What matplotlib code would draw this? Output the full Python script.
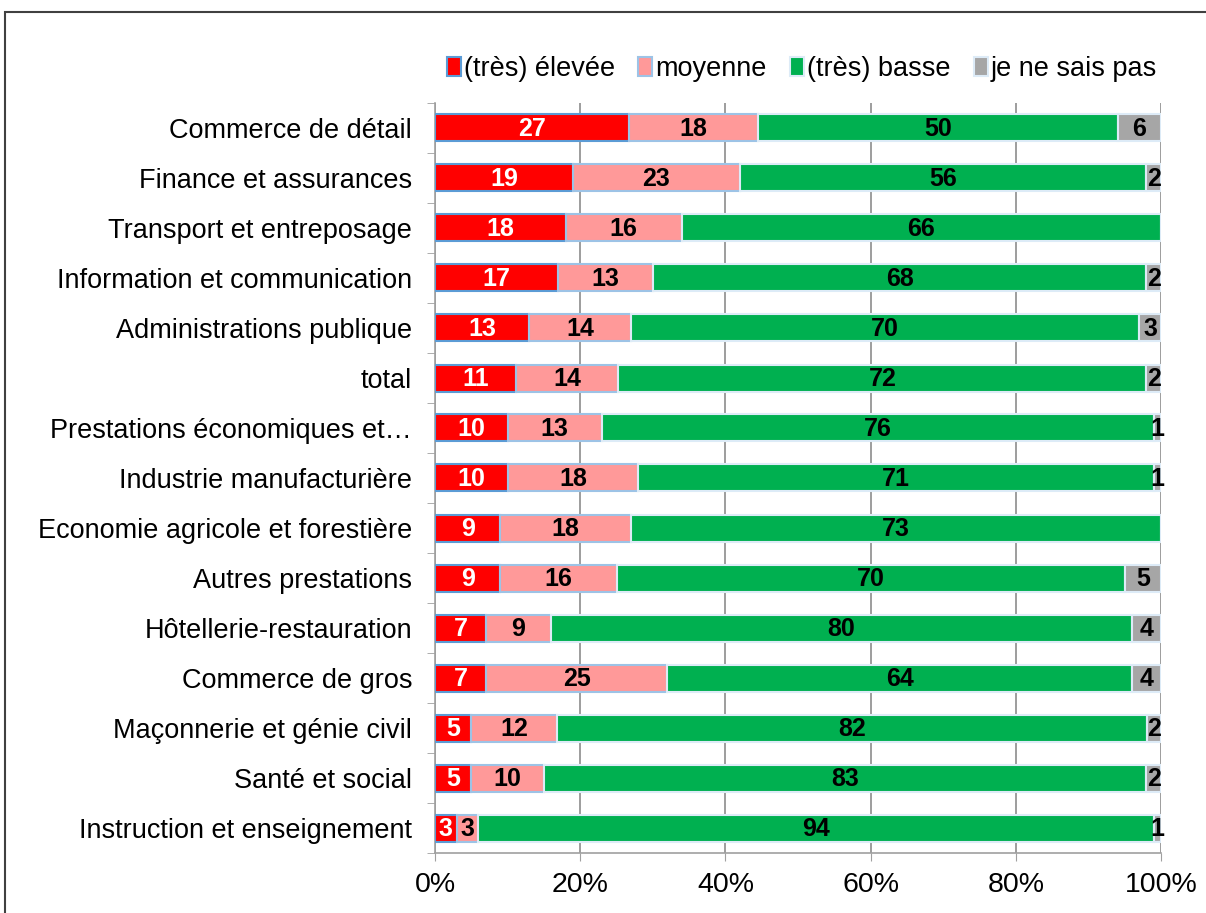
import matplotlib
matplotlib.use("Agg")
import matplotlib.pyplot as plt
from matplotlib.patches import Rectangle
import numpy as np

plt.rcParams['font.family'] = ['Liberation Sans', 'DejaVu Sans']

categories = [
    "Commerce de détail", "Finance et assurances", "Transport et entreposage",
    "Information et communication", "Administrations publique", "total",
    "Prestations économiques et…", "Industrie manufacturière",
    "Economie agricole et forestière", "Autres prestations",
    "Hôtellerie-restauration", "Commerce de gros",
    "Maçonnerie et génie civil", "Santé et social",
    "Instruction et enseignement",
]
eleve = [27, 19, 18, 17, 13, 11, 10, 10, 9, 9, 7, 7, 5, 5, 3]
moyenne = [18, 23, 16, 13, 14, 14, 13, 18, 18, 16, 9, 25, 12, 10, 3]
basse = [50, 56, 66, 68, 70, 72, 76, 71, 73, 70, 80, 64, 82, 83, 94]
nesaispas = [6, 2, 0, 2, 3, 2, 1, 1, 0, 5, 4, 4, 2, 2, 1]
series_names = ["(très) élevée", "moyenne", "(très) basse", "je ne sais pas"]
colors = ["#FF0000", "#FF9999", "#00B050", "#A6A6A6"]
edges = ["#5B9BD5", "#9DC3E6", "#DDEBF7", "#DDEBF7"]
text_colors = ["white", "black", "black", "black"]
xticklabels = ["0%", "20%", "40%", "60%", "80%", "100%"]

data = np.array([eleve, moyenne, basse, nesaispas], dtype=float)
totals = data.sum(axis=0)
pct = data / totals * 100

W, H = 1206, 913
fig = plt.figure(figsize=(W / 100, H / 100), dpi=100)
ax = fig.add_axes([435 / W, 1 - 853 / H, (1161 - 435) / W, (853 - 103) / H])

n = len(categories)
y = np.arange(n)
left = np.zeros(n)
handles = []
for i in range(4):
    bars = ax.barh(y, pct[i], left=left, height=0.54, color=colors[i],
                   edgecolor=edges[i], linewidth=1.5, label=series_names[i], zorder=3)
    handles.append(bars)
    for j in range(n):
        v = data[i][j]
        if v > 0:
            ax.text(left[j] + pct[i][j] / 2, y[j] + 0.02, f"{int(v)}", ha="center", va="center",
                    color=text_colors[i], fontsize=18, fontweight="bold", zorder=4)
    left += pct[i]

ax.set_ylim(n - 0.5, -0.5)
ax.set_xlim(0, 100)
ax.set_xticks([0, 20, 40, 60, 80, 100])
ax.set_xticklabels(xticklabels, fontsize=20.5)
ax.set_yticks(y)
ax.set_yticklabels(categories, fontsize=19.5)
ax.tick_params(axis="y", length=0, pad=16.5)
ax.set_yticks(np.arange(-0.5, n, 1), minor=True)
ax.tick_params(axis="y", which="minor", length=6, color="#A0A0A0")
ax.tick_params(axis="x", length=6, color="#A0A0A0", pad=8)
ax.grid(axis="x", color="#8C8C8C", linewidth=1.2, zorder=0)
for s in ["top", "right"]:
    ax.spines[s].set_visible(False)
ax.spines["left"].set_color("#A0A0A0")
ax.spines["bottom"].set_color("#A0A0A0")
ax.spines["left"].set_linewidth(1.2)
ax.spines["bottom"].set_linewidth(1.2)

leg = fig.legend(handles=handles, labels=series_names, loc="center left",
                 bbox_to_anchor=(447 / W, 1 - 69 / H), ncol=4, frameon=False,
                 fontsize=19.5, handlelength=0.5, handleheight=0.7, handletextpad=0.12,
                 columnspacing=0.87, borderaxespad=0, borderpad=0)

fig.patches.append(Rectangle((5 / W, -0.01), 1.02, 1 - 12 / H + 0.01,
                             transform=fig.transFigure, fill=False,
                             edgecolor="#404040", linewidth=1.5))

fig.savefig("out.png", dpi=100)
